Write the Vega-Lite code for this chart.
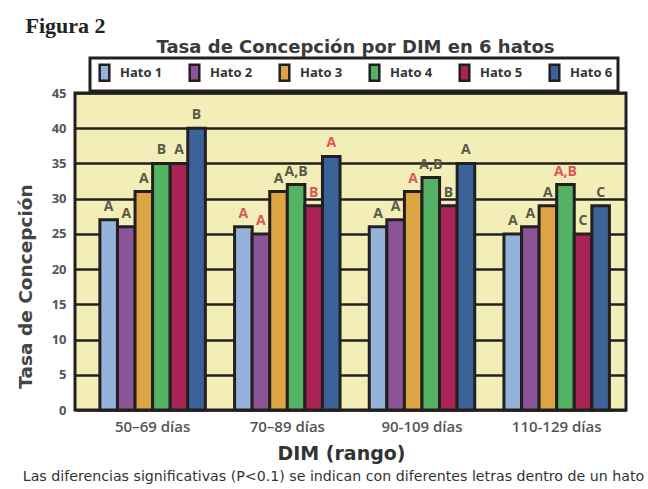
{
  "$schema": "https://vega.github.io/schema/vega-lite/v6.json",
  "width": 551,
  "height": 317,
  "autosize": {"type": "none"},
  "padding": {"left": 75, "top": 93, "right": 22, "bottom": 79},
  "background": "white",
  "title": {
    "text": "Tasa de Concepción por DIM en 6 hatos",
    "anchor": "middle",
    "frame": "group",
    "font": "DejaVu Sans",
    "fontSize": 18,
    "fontWeight": "bold",
    "color": "#3a3a3a",
    "dx": 5,
    "dy": 49,
    "offset": 6
  },
  "config": {
    "view": {"fill": "#F3EDB7", "stroke": "#231f20", "strokeWidth": 3},
    "axis": {"labelFont": "Open Sans", "titleFont": "Open Sans"}
  },
  "data": {
    "values": [
      {"grupo": "50–69 días", "hato": "Hato 1", "tasa": 27, "letra": "A", "sig": "n"},
      {"grupo": "50–69 días", "hato": "Hato 2", "tasa": 26, "letra": "A", "sig": "n"},
      {"grupo": "50–69 días", "hato": "Hato 3", "tasa": 31, "letra": "A", "sig": "n"},
      {"grupo": "50–69 días", "hato": "Hato 4", "tasa": 35, "letra": "B", "sig": "n"},
      {"grupo": "50–69 días", "hato": "Hato 5", "tasa": 35, "letra": "A", "sig": "n"},
      {"grupo": "50–69 días", "hato": "Hato 6", "tasa": 40, "letra": "B", "sig": "n"},
      {"grupo": "70–89 días", "hato": "Hato 1", "tasa": 26, "letra": "A", "sig": "s"},
      {"grupo": "70–89 días", "hato": "Hato 2", "tasa": 25, "letra": "A", "sig": "s"},
      {"grupo": "70–89 días", "hato": "Hato 3", "tasa": 31, "letra": "A", "sig": "n"},
      {"grupo": "70–89 días", "hato": "Hato 4", "tasa": 32, "letra": "A,B", "sig": "n"},
      {"grupo": "70–89 días", "hato": "Hato 5", "tasa": 29, "letra": "B", "sig": "s"},
      {"grupo": "70–89 días", "hato": "Hato 6", "tasa": 36, "letra": "A", "sig": "s"},
      {"grupo": "90-109 días", "hato": "Hato 1", "tasa": 26, "letra": "A", "sig": "n"},
      {"grupo": "90-109 días", "hato": "Hato 2", "tasa": 27, "letra": "A", "sig": "n"},
      {"grupo": "90-109 días", "hato": "Hato 3", "tasa": 31, "letra": "A", "sig": "s"},
      {"grupo": "90-109 días", "hato": "Hato 4", "tasa": 33, "letra": "A,B", "sig": "n"},
      {"grupo": "90-109 días", "hato": "Hato 5", "tasa": 29, "letra": "B", "sig": "n"},
      {"grupo": "90-109 días", "hato": "Hato 6", "tasa": 35, "letra": "A", "sig": "n"},
      {"grupo": "110-129 días", "hato": "Hato 1", "tasa": 25, "letra": "A", "sig": "n"},
      {"grupo": "110-129 días", "hato": "Hato 2", "tasa": 26, "letra": "A", "sig": "n"},
      {"grupo": "110-129 días", "hato": "Hato 3", "tasa": 29, "letra": "A", "sig": "n"},
      {"grupo": "110-129 días", "hato": "Hato 4", "tasa": 32, "letra": "A,B", "sig": "s"},
      {"grupo": "110-129 días", "hato": "Hato 5", "tasa": 25, "letra": "C", "sig": "n"},
      {"grupo": "110-129 días", "hato": "Hato 6", "tasa": 29, "letra": "C", "sig": "n"}
    ]
  },
  "encoding": {
    "x": {
      "field": "grupo",
      "type": "nominal",
      "sort": null,
      "scale": {"paddingInner": 0.217, "paddingOuter": 0.154, "align": 0.6}
    },
    "xOffset": {
      "field": "hato",
      "type": "nominal",
      "sort": null,
      "scale": {"paddingInner": 0, "paddingOuter": 0}
    },
    "y": {
      "field": "tasa",
      "type": "quantitative",
      "scale": {"domain": [0, 45], "nice": false}
    }
  },
  "layer": [
    {
      "mark": {"type": "bar", "stroke": "#231f20", "strokeWidth": 3},
      "encoding": {
        "x": {
          "field": "grupo",
          "type": "nominal",
          "sort": null,
          "axis": {
            "orient": "bottom",
            "title": "DIM (rango)",
            "titleFont": "DejaVu Sans",
            "titleFontSize": 19,
            "titleFontWeight": "bold",
            "titleColor": "#333333",
            "titleX": 266,
            "titleY": 43,
            "titleBaseline": "middle",
            "labelAngle": 0,
            "labelFontSize": 15,
            "labelFontWeight": 600,
            "labelColor": "#555555",
            "labelPadding": 9,
            "ticks": false,
            "domain": false,
            "grid": false
          }
        },
        "y": {
          "field": "tasa",
          "type": "quantitative",
          "axis": {
            "orient": "left",
            "title": "Tasa de Concepción",
            "titleFont": "DejaVu Sans",
            "titleFontSize": 18.5,
            "titleFontWeight": "bold",
            "titleColor": "#444444",
            "titleX": -50,
            "titleY": 193,
            "titleAngle": -90,
            "titleAlign": "center",
            "titleBaseline": "middle",
            "values": [0, 5, 10, 15, 20, 25, 30, 35, 40, 45],
            "labelFontSize": 13,
            "labelFontWeight": "bold",
            "labelColor": "#555555",
            "labelPadding": 9,
            "ticks": false,
            "domain": false,
            "grid": true,
            "gridColor": "#231f20",
            "gridWidth": 2.5,
            "gridOpacity": 1
          }
        },
        "color": {
          "field": "hato",
          "type": "nominal",
          "sort": null,
          "scale": {
            "domain": ["Hato 1", "Hato 2", "Hato 3", "Hato 4", "Hato 5", "Hato 6"],
            "range": ["#95B3DA", "#8B5496", "#DCA443", "#53B363", "#A92455", "#3B6398"]
          },
          "legend": {
            "title": null,
            "orient": "none",
            "legendX": 15,
            "legendY": -35,
            "direction": "horizontal",
            "columns": 6,
            "padding": 5,
            "strokeColor": "#231f20",
            "columnPadding": 21,
            "symbolType": "M-0.6,-1H0.6V1H-0.6Z",
            "symbolSize": 256,
            "symbolStrokeColor": "#231f20",
            "symbolStrokeWidth": 2.5,
            "symbolOpacity": 1,
            "labelFont": "Open Sans",
            "labelFontSize": 13,
            "labelFontWeight": "bold",
            "labelColor": "#333333",
            "labelOffset": 6,
            "encode": {"legend": {"update": {"strokeWidth": {"value": 3}}}}
          }
        }
      }
    },
    {
      "mark": {
        "type": "text",
        "baseline": "bottom",
        "dy": -6,
        "font": "Open Sans",
        "fontSize": 14,
        "fontWeight": "bold"
      },
      "encoding": {
        "x": {
          "field": "grupo",
          "type": "nominal",
          "sort": null,
          "axis": {
            "orient": "bottom",
            "title": "Las diferencias significativas (P<0.1) se indican con diferentes letras dentro de un hato",
            "titleFont": "DejaVu Sans",
            "titleFontSize": 14.2,
            "titleFontWeight": "normal",
            "titleColor": "#333333",
            "titleX": 258,
            "titleY": 66,
            "titleBaseline": "middle",
            "labels": false,
            "ticks": false,
            "domain": false,
            "grid": false
          }
        },
        "y": {
          "field": "tasa",
          "type": "quantitative",
          "axis": {
            "orient": "left",
            "title": "Figura 2",
            "titleFont": "Liberation Serif",
            "titleFontSize": 22,
            "titleFontWeight": "bold",
            "titleColor": "#222222",
            "titleAngle": 0,
            "titleAlign": "left",
            "titleBaseline": "alphabetic",
            "titleX": -50,
            "titleY": -61,
            "labels": false,
            "ticks": false,
            "domain": false,
            "grid": false
          }
        },
        "text": {"field": "letra"},
        "color": {
          "condition": {"test": "datum.sig === 's'", "value": "#D9585A"},
          "value": "#5A5A48"
        }
      }
    }
  ],
  "resolve": {"axis": {"x": "independent", "y": "independent"}}
}
